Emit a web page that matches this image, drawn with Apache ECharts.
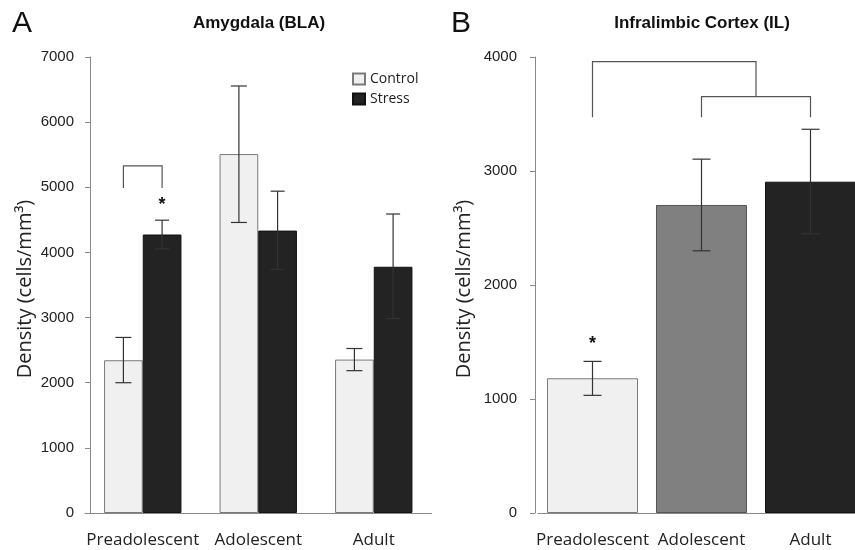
<!DOCTYPE html>
<html>
<head>
<meta charset="utf-8">
<script src="https://cdn.jsdelivr.net/npm/echarts@6/dist/echarts.min.js"></script>
<style>
  html, body { margin: 0; padding: 0; background: #fff; overflow: hidden; }
  /* a little wider than the window: the reference crops the last bar of panel B */
  #chart { width: 866px; height: 550px; }
</style>
</head>
<body>
<div id="chart"></div>
<script>
// Shared categories
const ages = ['Preadolescent', 'Adolescent', 'Adult'];

// Panel A: Amygdala (BLA), cells/mm3
const controlA = [2345, 5510, 2355];
const stressA = [4275, 4335, 3780];
const controlErrA = [[2000, 2695], [4460, 6555], [2185, 2525]];
const stressErrA = [[4055, 4495], [3740, 4940], [2985, 4590]];
const bracketA = [5330, 4990];   // top level, leg end
const starA = 4720;

// Panel B: Infralimbic cortex (IL)
const valuesB = [1182, 2702, 2906];
const errB = [[1032, 1330], [2300, 3104], [2450, 3366]];
const bracketBOuter = [3960, 3472];
const bracketBInner = [3652, 3472];
const starB = 1480;

const font = '"Open Sans", "DejaVu Sans", sans-serif';
const numFont = '"Liberation Sans", Arial, sans-serif';
const axisGray = '#8a8a8a';

const chart = echarts.init(document.getElementById('chart'));

// offset of the bar centre in units of the category band width
const offA = 0.1675;

function errorItem(offset, cap) {
  return function (params, api) {
    const band = api.size([1, 0])[0];
    const x = api.coord([api.value(0), 0])[0] + offset * band;
    const lo = api.coord([api.value(0), api.value(1)])[1];
    const hi = api.coord([api.value(0), api.value(2)])[1];
    const st = { stroke: '#333', lineWidth: 1.2 };
    return {
      type: 'group',
      children: [
        { type: 'line', shape: { x1: x, y1: lo, x2: x, y2: hi }, style: st },
        { type: 'line', shape: { x1: x - cap, y1: hi, x2: x + cap, y2: hi }, style: st },
        { type: 'line', shape: { x1: x - cap, y1: lo, x2: x + cap, y2: lo }, style: st }
      ]
    };
  };
}

function toErr(arr) {
  return arr.map((d, i) => [i, d[0], d[1]]);
}

const yAxisCommon = {
  type: 'value',
  interval: 1000,
  min: 0,
  splitLine: { show: false },
  axisLine: { show: true, lineStyle: { color: axisGray, width: 1 } },
  axisTick: { show: true, length: 5, lineStyle: { color: axisGray } },
  axisLabel: { color: '#222', fontSize: 15, fontFamily: numFont, formatter: v => String(v) },
  name: 'Density (cells/mm³)',
  nameLocation: 'middle',
  nameRotate: 90,
  nameTextStyle: { color: '#222', fontSize: 20, fontFamily: font, padding: [0, 8, 0, 0] }
};

const xAxisCommon = {
  type: 'category',
  data: ages,
  axisTick: { show: false },
  axisLine: { lineStyle: { color: axisGray, width: 1 } },
  axisLabel: { color: '#222', fontSize: 17, fontFamily: font, margin: 19, interval: 0 }
};

chart.setOption({
  animation: false,
  backgroundColor: '#fff',
  graphic: [
    { type: 'text', x: 12, y: 24, style: { text: 'A', font: '30px ' + numFont, fill: '#111', verticalAlign: 'middle' } },
    { type: 'text', x: 259, y: 23, style: { text: 'Amygdala (BLA)', font: 'bold 17px ' + numFont, fill: '#111', align: 'center', verticalAlign: 'middle' } },
    { type: 'text', x: 451, y: 24, style: { text: 'B', font: '30px ' + numFont, fill: '#111', verticalAlign: 'middle' } },
    { type: 'text', x: 702, y: 23, style: { text: 'Infralimbic Cortex (IL)', font: 'bold 17px ' + numFont, fill: '#111', align: 'center', verticalAlign: 'middle' } }
  ],
  legend: {
    data: ['Control', 'Stress'],
    orient: 'vertical',
    left: 347,
    top: 67,
    itemWidth: 12,
    itemHeight: 11,
    itemGap: 6,
    icon: 'rect',
    textStyle: { color: '#222', fontSize: 14, fontFamily: font }
  },
  grid: [
    { left: 85, width: 346.5, top: 57, bottom: 37 },
    { left: 538, width: 327, top: 57, bottom: 37 }
  ],
  xAxis: [
    Object.assign({ gridIndex: 0 }, xAxisCommon),
    Object.assign({ gridIndex: 1 }, xAxisCommon)
  ],
  yAxis: [
    Object.assign({}, yAxisCommon, { gridIndex: 0, max: 7000, offset: -5, nameGap: 55,
      axisLabel: Object.assign({}, yAxisCommon.axisLabel, { margin: 16 }) }),
    Object.assign({}, yAxisCommon, { gridIndex: 1, max: 4000, offset: 3, nameGap: 61,
      axisLabel: Object.assign({}, yAxisCommon.axisLabel, { margin: 18 }) })
  ],
  series: [
    {
      name: 'Control', type: 'bar', xAxisIndex: 0, yAxisIndex: 0,
      data: controlA, barGap: '0%', barCategoryGap: '33%',
      itemStyle: { color: '#f0f0f0', borderColor: '#7a7a7a', borderWidth: 1 }
    },
    {
      name: 'Stress', type: 'bar', xAxisIndex: 0, yAxisIndex: 0,
      data: stressA, barGap: '0%', barCategoryGap: '33%',
      itemStyle: { color: '#232323', borderColor: '#111', borderWidth: 1 }
    },
    {
      type: 'custom', xAxisIndex: 0, yAxisIndex: 0, z: 5,
      data: toErr(controlErrA), encode: { x: 0, y: [1, 2] },
      renderItem: errorItem(-offA, 8)
    },
    {
      type: 'custom', xAxisIndex: 0, yAxisIndex: 0, z: 5,
      data: toErr(stressErrA), encode: { x: 0, y: [1, 2] },
      renderItem: errorItem(offA, 7)
    },
    {
      // significance bracket, panel A
      type: 'custom', xAxisIndex: 0, yAxisIndex: 0, z: 5,
      data: [[0, bracketA[0], bracketA[1]]], encode: { x: 0, y: [1, 2] },
      renderItem: function (params, api) {
        const band = api.size([1, 0])[0];
        const cx = api.coord([0, 0])[0];
        const x1 = cx - offA * band, x2 = cx + offA * band;
        const top = api.coord([0, api.value(1)])[1];
        const leg = api.coord([0, api.value(2)])[1];
        return {
          type: 'polyline',
          shape: { points: [[x1, leg], [x1, top], [x2, top], [x2, leg]] },
          style: { stroke: '#555', lineWidth: 1.2, fill: null }
        };
      }
    },
    {
      type: 'custom', xAxisIndex: 0, yAxisIndex: 0, z: 5,
      data: [[0, starA]], encode: { x: 0, y: 1 },
      renderItem: function (params, api) {
        const band = api.size([1, 0])[0];
        const p = api.coord([0, api.value(1)]);
        return {
          type: 'text', x: p[0] + offA * band, y: p[1],
          style: { text: '*', font: 'bold 18px ' + numFont, fill: '#111', align: 'center', verticalAlign: 'middle' }
        };
      }
    },
    {
      type: 'bar', xAxisIndex: 1, yAxisIndex: 1,
      data: [
        { value: valuesB[0], itemStyle: { color: '#f0f0f0', borderColor: '#7a7a7a' } },
        { value: valuesB[1], itemStyle: { color: '#808080', borderColor: '#555' } },
        { value: valuesB[2], itemStyle: { color: '#232323', borderColor: '#111' } }
      ],
      barCategoryGap: '16.5%',
      itemStyle: { borderWidth: 1 }
    },
    {
      type: 'custom', xAxisIndex: 1, yAxisIndex: 1, z: 5,
      data: toErr(errB), encode: { x: 0, y: [1, 2] },
      renderItem: errorItem(0, 9)
    },
    {
      // significance brackets, panel B
      type: 'custom', xAxisIndex: 1, yAxisIndex: 1, z: 5,
      data: [[0, bracketBOuter[0], bracketBOuter[1], bracketBInner[0], bracketBInner[1]]],
      encode: { x: 0, y: [1, 2, 3, 4] },
      renderItem: function (params, api) {
        const x0 = api.coord([0, 0])[0];
        const x1 = api.coord([1, 0])[0];
        const x2 = api.coord([2, 0])[0];
        const xm = (x1 + x2) / 2;
        const oTop = api.coord([0, api.value(1)])[1];
        const oLeg = api.coord([0, api.value(2)])[1];
        const iTop = api.coord([0, api.value(3)])[1];
        const iLeg = api.coord([0, api.value(4)])[1];
        const st = { stroke: '#555', lineWidth: 1.2, fill: null };
        return {
          type: 'group',
          children: [
            { type: 'polyline', shape: { points: [[x0, oLeg], [x0, oTop], [xm, oTop], [xm, iTop]] }, style: st },
            { type: 'polyline', shape: { points: [[x1, iLeg], [x1, iTop], [x2, iTop], [x2, iLeg]] }, style: st }
          ]
        };
      }
    },
    {
      type: 'custom', xAxisIndex: 1, yAxisIndex: 1, z: 5,
      data: [[0, starB]], encode: { x: 0, y: 1 },
      renderItem: function (params, api) {
        const p = api.coord([0, api.value(1)]);
        return {
          type: 'text', x: p[0], y: p[1],
          style: { text: '*', font: 'bold 18px ' + numFont, fill: '#111', align: 'center', verticalAlign: 'middle' }
        };
      }
    }
  ]
});
</script>
</body>
</html>
